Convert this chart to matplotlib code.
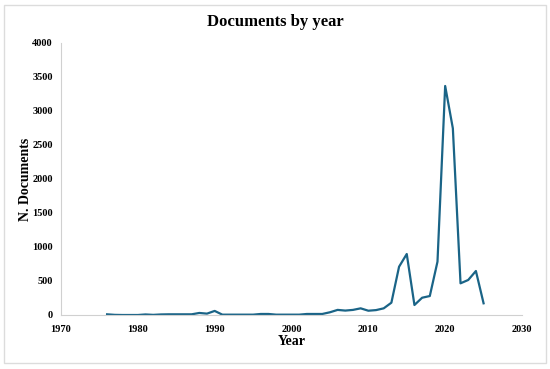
import matplotlib
matplotlib.use("Agg")
import matplotlib.pyplot as plt
from matplotlib.patches import Rectangle

years = list(range(1976, 2026))
documents = [
    10, 2, 0, 0, 0, 8, 2, 8, 10, 10,   # 1976-1985
    10, 10, 30, 20, 60, 5, 5, 5, 5, 5,  # 1986-1995
    15, 15, 5, 5, 5, 5, 15, 15, 15, 40, # 1996-2005
    75, 65, 75, 98, 63, 72, 98, 181, 710, 897,  # 2006-2015
    147, 254, 279, 784, 3368, 2745, 466, 515, 647, 172,  # 2016-2025
]

title = "Documents by year"
xlabel = "Year"
ylabel = "N. Documents"
xticks = [1970, 1980, 1990, 2000, 2010, 2020, 2030]
yticks = [0, 500, 1000, 1500, 2000, 2500, 3000, 3500, 4000]

plt.rcParams['font.family'] = ['Liberation Serif', 'DejaVu Serif']

fig = plt.figure(figsize=(5.5, 3.69), dpi=100)
fig.patches.append(Rectangle((4/550, 6/369), 542/550, 358/369, transform=fig.transFigure,
                             fill=False, edgecolor='#dcdcdc', linewidth=1.0))
ax = fig.add_axes([61/550, 1 - 315/369, (522 - 61)/550, (315 - 43)/369])

ax.plot(years, documents, color='#1a6487', linewidth=1.6)

ax.set_xlim(1970, 2030)
ax.set_ylim(0, 4000)
ax.set_xticks(xticks)
ax.set_yticks(yticks)
ax.tick_params(axis='y', length=0, labelsize=7.5, pad=6)
ax.tick_params(axis='x', length=0, labelsize=7.5, pad=7)
for lab in ax.get_xticklabels() + ax.get_yticklabels():
    lab.set_fontweight('bold')

for s in ['top', 'right']:
    ax.spines[s].set_visible(False)
for s in ['left', 'bottom']:
    ax.spines[s].set_color('#d0d0d0')
    ax.spines[s].set_linewidth(0.8)

ax.set_xlabel(xlabel, fontsize=10, fontweight='bold')
ax.set_ylabel(ylabel, fontsize=10, fontweight='bold')
ax.xaxis.set_label_coords(0.5, -0.099)
ax.yaxis.set_label_coords(-0.076, 0.5)
ax.xaxis.label.set_va('center')
ax.yaxis.label.set_va('center')
fig.text(0.5, 1 - 22/369, title, ha='center', va='center', fontsize=12, fontweight='bold')

fig.savefig('out.png', dpi=100)
